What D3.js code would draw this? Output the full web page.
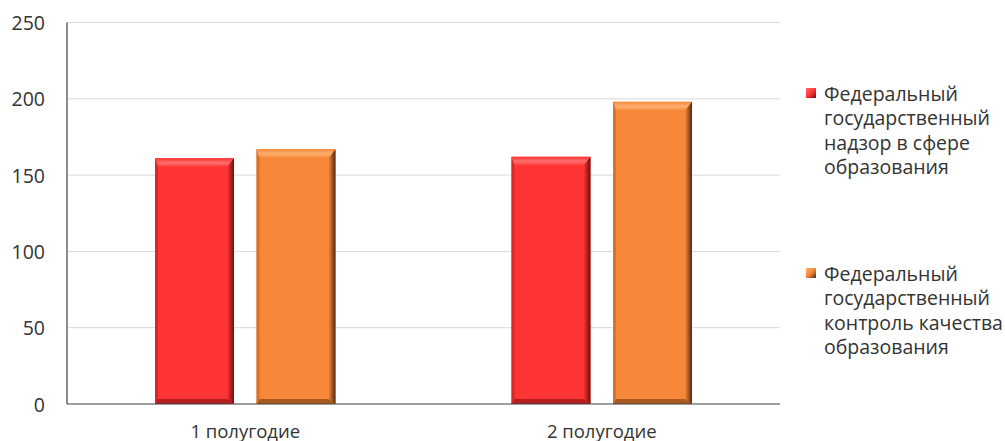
<!DOCTYPE html>
<html>
<head>
<meta charset="utf-8">
<script src="https://cdn.jsdelivr.net/npm/d3@7"></script>
<style>
  body { margin: 0; background: #fff; }
  text { font-family: "Open Sans", sans-serif; fill: #333333; }
</style>
</head>
<body>
<svg class="chart" width="1005" height="441"></svg>
<script>
// Data
const categories = ["1 полугодие", "2 полугодие"];
const seriesNames = [
    ["Федеральный", "государственный", "надзор в сфере", "образования"],
    ["Федеральный", "государственный", "контроль качества", "образования"]
];
const nadzor = [161, 162];
const kontrol = [167, 198];
const yTicks = [0, 50, 100, 150, 200, 250];

// Colours for each series: base, top bevel, right bevel, bottom bevel, left bevel
const palette = [
    {base: "#ff3434", top: "#ff6e6e", right: "#6e0f0f", bottom: "#b51e1e", left: "#d82828"},
    {base: "#f7883a", top: "#fbb06f", right: "#4e2a0e", bottom: "#a85a1e", left: "#d8732f"}
];

const rows = categories.map((c, i) => ({cat: c, values: [nadzor[i], kontrol[i]]}));

const margin = {top: 22.5, left: 67, right: 225, bottom: 37};
const W = 1005, H = 441;
const width = W - margin.left - margin.right;
const height = H - margin.top - margin.bottom;

const svg = d3.select(".chart");
const g = svg.append("g")
    .attr("transform", "translate(" + margin.left + "," + margin.top + ")");

// Scales
const x0 = d3.scaleBand().domain(categories).range([0, width]).padding(0);
const x1 = d3.scaleBand().domain([0, 1]).range([0, x0.bandwidth()])
    .paddingInner(0.222).paddingOuter(0.867);
const y = d3.scaleLinear().domain([0, 250]).range([height, 0]);

// Gridlines
g.selectAll(".grid")
    .data(yTicks.filter(d => d > 0))
    .enter().append("line")
    .attr("x1", 0).attr("x2", width)
    .attr("y1", d => y(d)).attr("y2", d => y(d))
    .attr("stroke", "#d9d9d9").attr("stroke-width", 1);

// Y tick labels
g.selectAll(".ylab")
    .data(yTicks)
    .enter().append("text")
    .attr("x", -22)
    .attr("y", d => y(d))
    .attr("text-anchor", "end")
    .attr("dominant-baseline", "central")
    .style("font-size", "19.5px")
    .text(d => d);

// Bars with a bevel look
function bevel(sel, x, yTop, w, h, col) {
    const bt = 9, br = 7, bb = 5, bl = 3;
    const x2 = x + w, y2 = yTop + h;
    sel.append("rect").attr("x", x).attr("y", yTop).attr("width", w).attr("height", h)
        .attr("fill", col.base);
    const poly = (pts, fill) => sel.append("polygon")
        .attr("points", pts.map(p => p.join(",")).join(" ")).attr("fill", fill);
    poly([[x, yTop], [x2, yTop], [x2 - br, yTop + bt], [x + bl, yTop + bt]], "url(#tgrad" + col.idx + ")");
    poly([[x, y2], [x2, y2], [x2 - br, y2 - bb], [x + bl, y2 - bb]], col.bottom);
    poly([[x, yTop], [x + bl, yTop + bt], [x + bl, y2 - bb], [x, y2]], col.left);
    poly([[x2, yTop], [x2, y2], [x2 - br, y2 - bb], [x2 - br, yTop + bt]], "url(#rgrad" + col.idx + ")");
}

const defs = svg.append("defs");
palette.forEach((col, i) => {
    col.idx = i;
    const gr = defs.append("linearGradient").attr("id", "rgrad" + i)
        .attr("x1", "0").attr("x2", "1").attr("y1", "0").attr("y2", "0");
    gr.append("stop").attr("offset", "0").attr("stop-color", col.base);
    gr.append("stop").attr("offset", "1").attr("stop-color", col.right);
    const tg = defs.append("linearGradient").attr("id", "tgrad" + i)
        .attr("x1", "0").attr("x2", "0").attr("y1", "0").attr("y2", "1");
    tg.append("stop").attr("offset", "0").attr("stop-color", col.base);
    tg.append("stop").attr("offset", "0.5").attr("stop-color", col.top);
    tg.append("stop").attr("offset", "1").attr("stop-color", col.base);
    const lg = defs.append("linearGradient").attr("id", "lgrad" + i)
        .attr("x1", "0").attr("x2", "1").attr("y1", "0").attr("y2", "1");
    lg.append("stop").attr("offset", "0").attr("stop-color", col.top);
    lg.append("stop").attr("offset", "0.5").attr("stop-color", col.base);
    lg.append("stop").attr("offset", "1").attr("stop-color", col.right);
});

rows.forEach(r => {
    r.values.forEach((v, s) => {
        const bx = x0(r.cat) + x1(s);
        bevel(g.append("g"), bx, y(v), x1.bandwidth(), height - y(v), palette[s]);
    });
});

// Axis lines
g.append("line").attr("x1", 0).attr("x2", 0).attr("y1", 0).attr("y2", height)
    .attr("stroke", "#404040").attr("stroke-width", 1.2);
g.append("line").attr("x1", 0).attr("x2", width).attr("y1", height).attr("y2", height)
    .attr("stroke", "#404040").attr("stroke-width", 1.2);

// Category labels
g.selectAll(".xlab")
    .data(categories)
    .enter().append("text")
    .attr("x", d => x0(d) + x0.bandwidth() / 2)
    .attr("y", height + 26)
    .attr("text-anchor", "middle")
    .attr("dominant-baseline", "central")
    .style("font-size", "18.5px")
    .text(d => d);

// Legend
const legendTops = [93, 273];
const lineH = 24.5;
seriesNames.forEach((lines, i) => {
    const lgd = svg.append("g");
    lgd.append("rect")
        .attr("x", 806).attr("y", legendTops[i] - 5)
        .attr("width", 10).attr("height", 10)
        .attr("fill", "url(#lgrad" + i + ")");
    lines.forEach((t, k) => {
        lgd.append("text")
            .attr("x", 824)
            .attr("y", legendTops[i] + k * lineH)
            .attr("dominant-baseline", "central")
            .style("font-size", "19.5px")
            .text(t);
    });
});
</script>
</body>
</html>
